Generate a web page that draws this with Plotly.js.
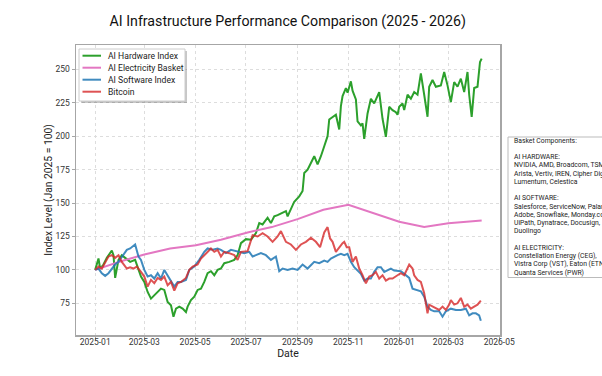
<!DOCTYPE html>
<html>
<head>
<meta charset="utf-8">
<script src="https://cdn.plot.ly/plotly-3.0.1.min.js"></script>
<style>html,body{margin:0;padding:0;background:#fff;overflow:hidden}#chart{width:602px;height:376px}</style>
</head>
<body>
<div id="chart"></div>
<script>
// Day offsets from 2025-01-01 and index values
const hwDays = [0,4,6,10,14,20,22,24,28,32,36,42,48,52,55,59,63,67,71,75,79,83,87,91,94,97,101,105,109,111,115,119,123,127,131,135,139,143,147,151,155,161,167,171,175,181,187,193,197,201,207,211,215,219,225,229,231,235,239,245,249,251,255,259,263,267,271,275,279,281,285,289,293,295,297,301,303,307,309,313,315,319,321,323,327,331,335,337,341,345,349,353,357,361,363,365,369,371,375,379,383,387,391,395,399,401,405,409,415,419,423,427,431,435,439,443,447,449,452,455,459,462,464];
const hwVals = [100,108.5,101,104,109,114.5,111,94,107.5,111,109,106,107.5,101,95,91,83.5,78.5,81,83.5,86,85,76,73.5,65,71,72.5,71,68.5,72.5,77.5,80,85,86,91,97.5,99,96,100,101,105,106,107.5,111,120,123,122.5,127.5,135,134,139,135,140,141,142.5,144,140,145,151,155,159,172.5,175,180,185,179,185,192.5,200,212.5,214,216,205,222.5,230,236,232.5,241,234,227.5,211,208,209.5,198,217,228,224.5,227,233,213,199.5,222,219.5,218,216,222,224.5,219.5,231,228,233,231,247,231,214.5,237,242,237,238,248,238,225.5,240.5,237,243,233,248,231,214.5,236,237,255.5,258];

const elDays = [0,14,31,59,90,121,151,183,212,243,274,304,335,365,395,424,464];
const elVals = [100,103,106.5,111.5,116,118.5,122.5,128,132,138,145,148.7,142,136,132,134.8,137];

const swDays = [0,4,8,12,16,20,24,28,34,38,42,48,52,55,59,63,67,71,75,79,83,87,91,95,99,103,109,113,119,125,131,135,141,147,151,157,163,171,179,185,189,193,199,205,211,217,221,225,231,237,243,249,255,263,269,275,279,283,287,291,295,299,303,307,311,315,319,323,327,331,335,339,343,347,351,355,359,363,367,371,377,381,387,391,395,399,403,407,413,417,421,427,433,439,445,449,453,457,461,463];
const swVals = [100,101,97.5,95.5,97.5,101,104,106,111,115,116,119,110,107.5,100,95,96,93.5,97.5,93.5,100,96,91,87.5,91,91,92.5,100,102.5,107.5,113.5,116,115,116,115,112.5,115,113.5,112.5,113.5,110,111,112.5,111,107.5,110,99,101,100,101,100,104,101,106,105,107,106,108.5,110,111,112,111,112,106,102,99.5,97,92,93.5,93.5,98.5,102,102,98.5,100,101,99.5,99.5,99,97,94,86,85,84,80,72.5,70,69,69,65,69,71,70,70,71,66,67.5,67.5,66,62];

const btDays = [0,4,8,12,16,20,24,28,32,38,42,46,50,55,59,63,67,71,75,79,83,87,91,95,99,103,109,113,117,123,127,131,135,139,143,147,151,155,161,167,171,175,183,189,195,201,207,213,219,223,229,235,241,247,253,259,265,270,275,279,282,285,289,293,297,299,302,305,309,313,317,321,325,329,333,337,341,345,349,353,357,363,367,371,377,381,383,387,391,395,397,399,401,405,409,413,417,421,425,427,431,435,439,443,447,451,455,459,463];
const btVals = [100,102.5,101,105,110,111,109,111,106,101,102,101,102.5,98.5,95,87.5,92.5,90,94,92.5,95,88.5,91,84.5,90,91,94,100,102.5,104,108.5,111,113.5,116,113.5,115,110,113.5,112.5,111,107.5,113.5,114,126,125,127.5,125,121,125,129,121,119,115,119,121,124,121,117,128,132,123.5,121,113.5,117,120,121,117,117,106,110,101,96,90,95,96,98.5,93.5,96,92,93.5,93.5,96,97.5,96,104,101,96,92.5,91,82.5,75,67.5,74,72.5,71,70,72.5,70,74,77.5,74,75,79,72.5,74,71,72.5,74,77];

const seriesNames = ['AI Hardware Index','AI Electricity Basket','AI Software Index','Bitcoin'];
const seriesColors = ['#2ca02c','#e377c2','rgba(31,119,180,0.85)','rgba(214,39,40,0.8)'];
const yTicks = [75,100,125,150,175,200,225,250];
const basketText = ['Basket Components:','','AI HARDWARE:','NVIDIA, AMD, Broadcom, TSMC','Arista, Vertiv, IREN, Cipher Digital','Lumentum, Celestica','','AI SOFTWARE:','Salesforce, ServiceNow, Palantir','Adobe, Snowflake, Monday.com','UiPath, Dynatrace, Docusign,','Duolingo','','AI ELECTRICITY:','Constellation Energy (CEG),','Vistra Corp (VST), Eaton (ETN)','Quanta Services (PWR)'];

function toDates(days){
  const base = Date.UTC(2025,0,1);
  return days.map(d => new Date(base + d*86400000).toISOString().slice(0,10));
}

const W = 602, H = 376, M = {l:76, r:102, t:45, b:41};
const PW = W - M.l - M.r, PH = H - M.t - M.b;
const px = x => (x - M.l) / PW;        // pixel -> paper x
const py = y => 1 - (y - M.t) / PH;    // pixel -> paper y

const FONT = 'Roboto, "Open Sans", sans-serif';
const allDays = [hwDays, elDays, swDays, btDays];
const allVals = [hwVals, elVals, swVals, btVals];
const traces = seriesNames.map((n, i) => ({
  type:'scatter', mode:'lines', name:n, x: toDates(allDays[i]), y: allVals[i],
  line:{color: seriesColors[i], width:2}, showlegend:false
}));

// Custom compact legend (matplotlib-style) and basket text box
const shapes = [];
const annotations = [];
// legend shadow + box
shapes.push({type:'rect', xref:'paper', yref:'paper', layer:'above', x0:px(81), x1:px(187), y0:py(51), y1:py(103), fillcolor:'rgba(0,0,0,0.22)', line:{width:0}});
shapes.push({type:'rect', xref:'paper', yref:'paper', layer:'above', x0:px(79), x1:px(185), y0:py(49), y1:py(101), fillcolor:'#ffffff', line:{color:'#cccccc', width:1}});
seriesNames.forEach((n, i) => {
  const cy = 55.7 + i * 12;
  shapes.push({type:'line', xref:'paper', yref:'paper', layer:'above', x0:px(82.5), x1:px(101), y0:py(cy), y1:py(cy), line:{color: seriesColors[i], width:2}});
  annotations.push({xref:'paper', yref:'paper', x:px(106), y:py(cy), xanchor:'left', yanchor:'middle', text:n, showarrow:false, font:{size:8.6, color:'#222'}});
});
// basket components box
shapes.push({type:'rect', xref:'paper', yref:'paper', x0:px(508), x1:px(640), y0:py(137), y1:py(277.5), fillcolor:'#ffffff', line:{color:'#bbbbbb', width:1}});
basketText.forEach((t, i) => {
  if (!t) return;
  annotations.push({xref:'paper', yref:'paper', x:px(511.5), y:py(140.7 + i * 8.25), xanchor:'left', yanchor:'middle', text:t, showarrow:false, font:{size:6.8, color:'#222'}});
});

const layout = {
  width: W, height: H,
  margin: {l:M.l, r:M.r, t:M.t, b:M.b, pad:0},
  paper_bgcolor:'#fff', plot_bgcolor:'#fff',
  font: {family: FONT, color:'#222', size:9},
  title: {text:'AI Infrastructure Performance Comparison (2025 - 2026)', font:{size:14.2, color:'#111'}, x:0.478, xanchor:'center', y:0.945, yanchor:'middle'},
  showlegend: false,
  xaxis: {
    type:'date', range:['2024-12-09','2026-05-02'], dtick:'M2', tick0:'2025-01-01', tickformat:'%Y-%m',
    showgrid:true, gridcolor:'#dddddd', griddash:'dot', gridwidth:1,
    showline:true, linecolor:'#a6a6a6', linewidth:1.5, mirror:true,
    ticks:'outside', ticklen:3, tickcolor:'#a6a6a6', tickfont:{size:8.5, color:'#333'}, ticklabelstandoff:-5,
    title:{text:'Date', font:{size:10.5, color:'#222'}, standoff:2}, zeroline:false
  },
  yaxis: {
    range:[51.3, 268.2], tickvals: yTicks, ticktext: yTicks.map(String),
    showgrid:true, gridcolor:'#dddddd', griddash:'dot', gridwidth:1,
    showline:true, linecolor:'#a6a6a6', linewidth:1.5, mirror:true,
    ticks:'outside', ticklen:3, tickcolor:'#a6a6a6', tickfont:{size:8.5, color:'#333'},
    title:{text:'Index Level (Jan 2025 = 100)', font:{size:10.3, color:'#222'}, standoff:0}, zeroline:false
  },
  shapes: shapes,
  annotations: annotations
};

Plotly.newPlot('chart', traces, layout, {displayModeBar:false, staticPlot:true});
</script>
</body>
</html>
